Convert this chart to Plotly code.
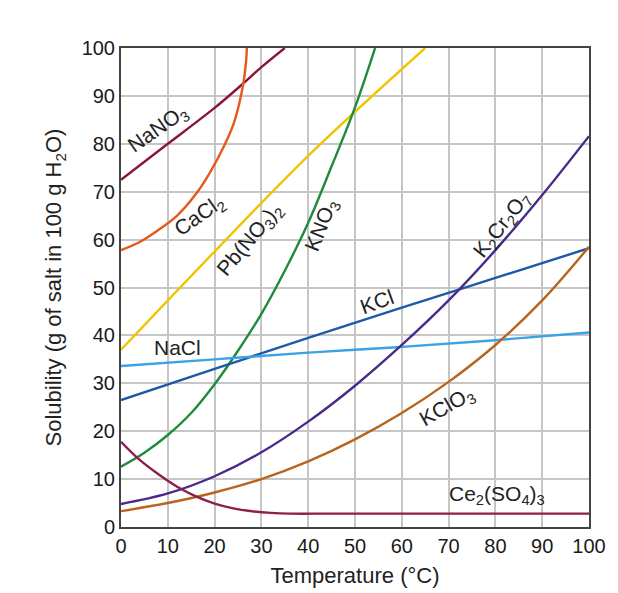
import plotly.graph_objects as go

# solubility curves (temperature in deg C, g per 100 g water)
nano3_t = [0, 10, 20, 26, 30, 35]
nano3_s = [72.5, 80, 87.5, 92.5, 96, 100]

cacl2_t = [0, 4, 8, 12, 16, 19, 22, 24, 25.3, 26.2, 26.7, 26.9]
cacl2_s = [57.8, 59.5, 62, 65, 69.5, 74, 79.5, 84, 88.5, 93, 97, 100]

pbno3_t = [0, 20, 40, 65]
pbno3_s = [37, 57.5, 77.5, 100]

kno3_t = [0, 5, 10, 15, 20, 25, 30, 35, 40, 45, 50, 54.3]
kno3_s = [12.6, 15.5, 19.2, 23.8, 29.8, 36.8, 44.5, 53.5, 63.5, 75.3, 87.6, 100]

kcl_t = [0, 20, 40, 60, 80, 100]
kcl_s = [26.5, 33, 39.5, 45.8, 52, 58.2]

nacl_t = [0, 20, 40, 60, 80, 100]
nacl_s = [33.6, 35, 36.4, 37.6, 39, 40.6]

k2cr2o7_t = [0, 10, 20, 30, 40, 50, 60, 70, 80, 90, 100]
k2cr2o7_s = [4.8, 7.0, 10.6, 15.6, 22, 29.5, 38, 47.3, 57.8, 69.3, 81.6]

kclo3_t = [0, 10, 20, 30, 40, 50, 60, 70, 80, 90, 100]
kclo3_s = [3.3, 5.0, 7.2, 10.0, 13.7, 18.3, 23.8, 30.3, 38.0, 47.3, 58.5]

ce_t = [0, 4, 8, 12, 16, 20, 24, 28, 32, 36, 45, 60, 80, 100]
ce_s = [17.8, 14, 11, 8.4, 6.4, 4.9, 3.9, 3.3, 2.95, 2.8, 2.8, 2.8, 2.8, 2.8]

series = [
    (nano3_t, nano3_s, '#8a1538'),
    (cacl2_t, cacl2_s, '#e8581c'),
    (pbno3_t, pbno3_s, '#f0c400'),
    (kno3_t, kno3_s, '#1f8a3c'),
    (kcl_t, kcl_s, '#1c5aa8'),
    (nacl_t, nacl_s, '#3aa2e6'),
    (k2cr2o7_t, k2cr2o7_s, '#4a2a88'),
    (kclo3_t, kclo3_s, '#b8641c'),
    (ce_t, ce_s, '#8c1f4c'),
]

# curve labels: text, x, y, angle
labels = [
    ('NaNO<sub>3</sub>', 8, 83, -35),
    ('CaCl<sub>2</sub>', 16.8, 65, -35),
    ('Pb(NO<sub>3</sub>)<sub>2</sub>', 27.5, 60, -50),
    ('KNO<sub>3</sub>', 43, 63, -68),
    ('KCl', 54.7, 47, -20),
    ('NaCl', 12, 37.5, 0),
    ('K<sub>2</sub>Cr<sub>2</sub>O<sub>7</sub>', 81.5, 63, -52),
    ('KClO<sub>3</sub>', 69.7, 25, -30),
    ('Ce<sub>2</sub>(SO<sub>4</sub>)<sub>3</sub>', 80.3, 6.7, 0),
]

fig = go.Figure()
for t, s, c in series:
    fig.add_trace(go.Scatter(x=t, y=s, mode='lines', line=dict(color=c, width=2.4, shape='spline', smoothing=1.0),
                             hoverinfo='skip', showlegend=False))

for txt, x, y, ang in labels:
    fig.add_annotation(x=x, y=y, text=txt, showarrow=False, textangle=ang,
                       font=dict(size=21, color='#222222'))

axis_style = dict(
    range=[0, 100], dtick=10, showgrid=True, gridcolor='#c6c6c6', gridwidth=2,
    showline=True, linecolor='#444444', linewidth=2, mirror=True,
    ticks='', zeroline=False, tickfont=dict(size=20, color='#1a1a1a'),
)

fig.update_layout(
    width=618, height=593,
    margin=dict(l=113, r=37, t=40, b=74),
    paper_bgcolor='white', plot_bgcolor='white',
    font=dict(family='Liberation Sans, Arial, sans-serif', size=21, color='#222222'),
    xaxis=dict(title=dict(text='Temperature (°C)', font=dict(size=22), standoff=12), **axis_style),
    yaxis=dict(title=dict(text='Solubility (g of salt in 100 g H<sub>2</sub>O)', font=dict(size=22), standoff=14),
               **axis_style),
)

fig.write_html("out.html")
